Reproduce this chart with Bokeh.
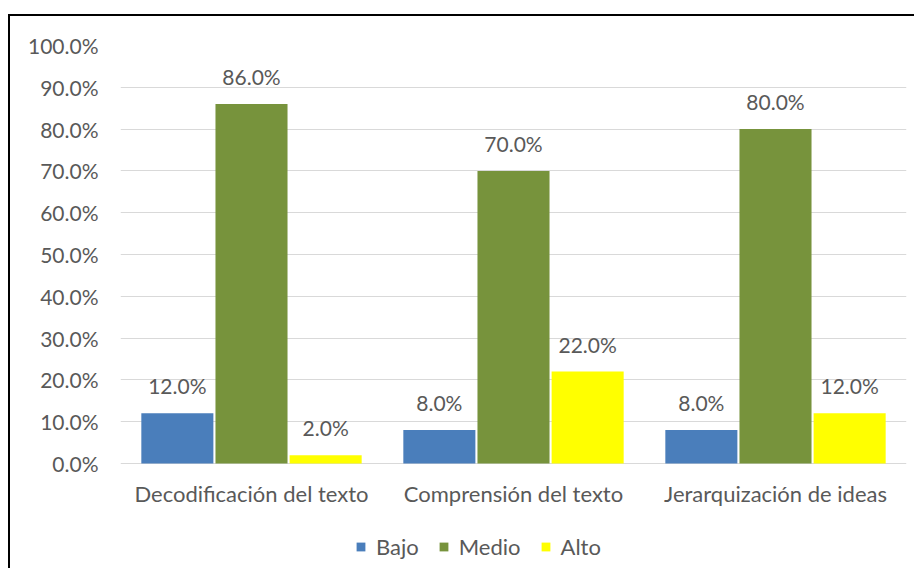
from bokeh.plotting import figure
from bokeh.layouts import column
from bokeh.core.properties import value
from bokeh.models import (ColumnDataSource, FactorRange, NumeralTickFormatter,
                          LabelSet, Legend, LegendItem, FixedTicker, Range1d)
from bokeh.transform import dodge
from bokeh.embed import file_html
from bokeh.resources import INLINE

categories = ["Decodificación del texto", "Comprensión del texto", "Jerarquización de ideas"]
series = ["Bajo", "Medio", "Alto"]
bajo = [0.12, 0.08, 0.08]
medio = [0.86, 0.70, 0.80]
alto = [0.02, 0.22, 0.12]
y_ticks = [0.0, 0.1, 0.2, 0.3, 0.4, 0.5, 0.6, 0.7, 0.8, 0.9, 1.0]
colors = ["#4A7EBB", "#77933C", "#FFFF00"]
offsets = [-0.283, 0.0, 0.283]

FONT = "Lato"
TXT = "#595959"

src = ColumnDataSource(data=dict(
    cat=categories,
    base=[0.0] * len(categories),
    Bajo=bajo, Medio=medio, Alto=alto,
    Bajo_lbl=[f"{v*100:.1f}%" for v in bajo],
    Medio_lbl=[f"{v*100:.1f}%" for v in medio],
    Alto_lbl=[f"{v*100:.1f}%" for v in alto],
))

# frame extends below zero to hold the category labels and legend
p = figure(x_range=FactorRange(factors=categories), y_range=Range1d(-0.2416, 1.0),
           width=904, height=552, output_backend="svg", toolbar_location=None,
           min_border_left=110, min_border_right=8, min_border_top=29,
           min_border_bottom=4)
p.outline_line_color = None
p.background_fill_color = "white"

items = []
for s, c, off in zip(series, colors, offsets):
    r = p.vbar(x=dodge("cat", off, range=p.x_range), top=s, width=0.275,
               source=src, fill_color=c, line_color=None)
    items.append(LegendItem(label=s, renderers=[r]))
    lbl = LabelSet(x=dodge("cat", off, range=p.x_range), y=s, text=s + "_lbl",
                   source=src, text_align="center", text_baseline="alphabetic",
                   y_offset=19, text_font=value(FONT), text_font_size="21px",
                   text_color=TXT)
    p.add_layout(lbl)

cat_lbl = LabelSet(x="cat", y="base", text="cat", source=src,
                   text_align="center", text_baseline="alphabetic",
                   y_offset=-38, text_font=value(FONT), text_font_size="22px",
                   text_color=TXT)
p.add_layout(cat_lbl)

p.xaxis.visible = False

p.yaxis.ticker = FixedTicker(ticks=y_ticks)
p.yaxis.formatter = NumeralTickFormatter(format="0.0%")
p.yaxis.axis_line_color = None
p.yaxis.major_tick_line_color = None
p.yaxis.minor_tick_line_color = None
p.yaxis.major_tick_out = 0
p.yaxis.major_tick_in = 0
p.yaxis.major_label_standoff = 22
p.yaxis.major_label_text_font = FONT
p.yaxis.major_label_text_font_size = "21px"
p.yaxis.major_label_text_color = TXT

p.xgrid.grid_line_color = None
p.ygrid.grid_line_color = "#D9D9D9"
p.ygrid.grid_line_width = 1

legend = Legend(items=items, orientation="horizontal", location=(235, 4),
                glyph_width=11, glyph_height=11, label_text_font=FONT,
                label_text_font_size="22px", label_text_color=TXT,
                border_line_color=None, background_fill_alpha=0,
                spacing=19, label_standoff=10, padding=0, margin=0)
p.add_layout(legend)

layout = column(p, styles={"border-left": "2px solid black",
                           "border-top": "2px solid black",
                           "margin-left": "8px",
                           "margin-top": "14px"})

open("out.html", "w").write(file_html(layout, INLINE))
